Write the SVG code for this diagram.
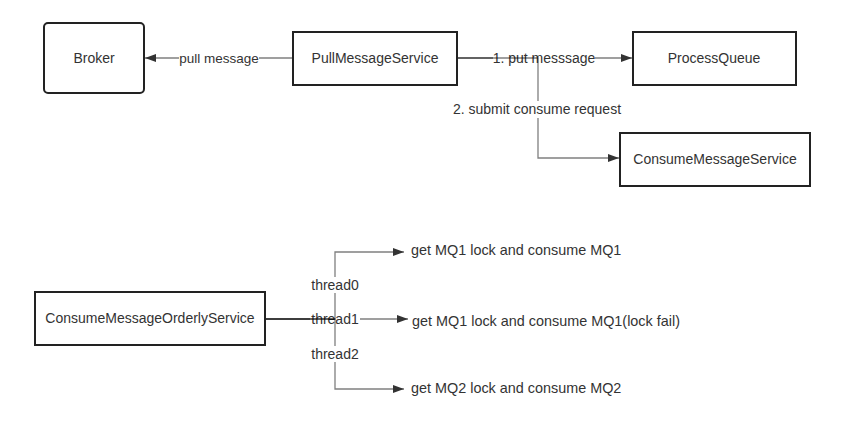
<svg xmlns="http://www.w3.org/2000/svg" width="848" height="421" viewBox="0 0 848 421">
<defs>
<marker id="arr" markerUnits="userSpaceOnUse" markerWidth="12" markerHeight="8" refX="11" refY="4" orient="auto">
<path d="M0,0 L11,4 L0,8 z" fill="#333"/>
</marker>
<style>
.box{fill:#fff;stroke:#222;stroke-width:2}
.t{font-family:"Liberation Sans",Arial,sans-serif;font-size:14px;fill:#333;text-anchor:middle;dominant-baseline:central}
.tl{font-family:"Liberation Sans",Arial,sans-serif;font-size:14.4px;fill:#333;dominant-baseline:central}
.e{fill:none;stroke:#000;stroke-opacity:0.5;stroke-width:1.3}
.bg{fill:#fff}
</style>
</defs>
<rect width="848" height="421" fill="#fff"/>
<g id="connectors">
<g id="e-pull">
<path class="e" d="M293,58 H145" marker-end="url(#arr)"/>
<rect class="bg" x="179" y="50" width="80" height="16"/>
<text class="t" x="219" y="58" style="font-size:13.5px">pull message</text>
</g>
<g id="e-put">
<path class="e" d="M457,58 H632" marker-end="url(#arr)"/>
<rect class="bg" x="493" y="50" width="102" height="16"/>
<text class="t" x="544" y="58">1. put messsage</text>
</g>
<g id="e-submit">
<path class="e" d="M457,58 H538 V158 H619" marker-end="url(#arr)"/>
<rect class="bg" x="451" y="101" width="172" height="17"/>
<text class="t" x="537" y="109">2. submit consume request</text>
</g>
<g id="e-thread1">
<path class="e" d="M266,319 H408" marker-end="url(#arr)"/>
<rect class="bg" x="310" y="311" width="50" height="16"/>
<text class="t" x="335" y="319">thread1</text>
</g>
<g id="e-thread0">
<path class="e" d="M266,319 H335 V252 H404" marker-end="url(#arr)"/>
<rect class="bg" x="310" y="277" width="50" height="16"/>
<text class="t" x="335" y="285">thread0</text>
</g>
<g id="e-thread2">
<path class="e" d="M266,319 H335 V389 H404" marker-end="url(#arr)"/>
<rect class="bg" x="310" y="346" width="50" height="16"/>
<text class="t" x="335" y="354">thread2</text>
</g>
</g>
<g id="broker">
<rect class="box" x="44" y="23" width="100" height="70" rx="4"/>
<text class="t" x="94" y="58">Broker</text>
</g>
<g id="pullMessageService">
<rect class="box" x="293" y="32" width="164" height="53"/>
<text class="t" x="375" y="58">PullMessageService</text>
</g>
<g id="processQueue">
<rect class="box" x="633" y="32" width="163" height="53"/>
<text class="t" x="714" y="58">ProcessQueue</text>
</g>
<g id="consumeMessageService">
<rect class="box" x="620" y="133" width="190" height="53"/>
<text class="t" x="715" y="159">ConsumeMessageService</text>
</g>
<g id="consumeMessageOrderlyService">
<rect class="box" x="35" y="292" width="230" height="53"/>
<text class="t" x="150" y="318">ConsumeMessageOrderlyService</text>
</g>
<g id="result0">
<text class="tl" x="411" y="250">get MQ1 lock and consume MQ1</text>
</g>
<g id="result1">
<text class="tl" x="412" y="321">get MQ1 lock and consume MQ1(lock fail)</text>
</g>
<g id="result2">
<text class="tl" x="411" y="388">get MQ2 lock and consume MQ2</text>
</g>
</svg>
